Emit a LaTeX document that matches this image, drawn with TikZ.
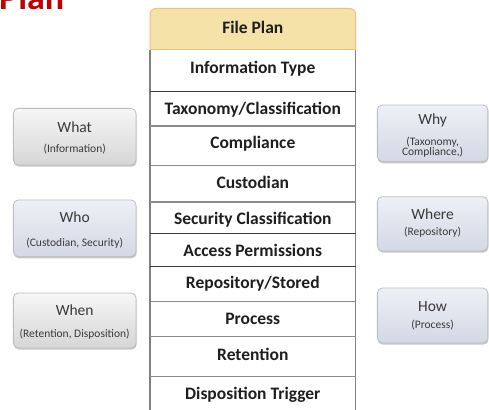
\documentclass[tikz,border=0pt]{standalone}
\usepackage{fontspec}
\setmainfont{Carlito}
\usetikzlibrary{shadows}
\definecolor{hdrfill}{HTML}{F5E2A8}
\definecolor{hdrline}{HTML}{F2C07C}
\definecolor{colline}{HTML}{808080}
\definecolor{rowdark}{HTML}{3C3C3C}
\definecolor{rowgray}{HTML}{8A8A8A}
\definecolor{coltext}{HTML}{1E1E1E}
\definecolor{boxline}{HTML}{BDBDBD}
\definecolor{graytop}{HTML}{F6F6F6}
\definecolor{graybot}{HTML}{D6D6D6}
\definecolor{bluetop}{HTML}{EEF0F6}
\definecolor{bluebot}{HTML}{D3D8E5}
\definecolor{boxtext}{HTML}{3A3A3A}
\definecolor{plancol}{HTML}{C00000}
\begin{document}
\begin{tikzpicture}[x=1pt,y=-1pt,
  rowtext/.style={font=\bfseries\fontsize{17.5}{19}\selectfont, text=coltext, inner sep=0pt, text height=0.644em, text depth=0pt, anchor=center},
  darkline/.style={draw=rowdark, line width=1pt},
  grayline/.style={draw=rowgray, line width=1.1pt},
  sidebox/.style={draw=boxline, line width=0.8pt, rounded corners=5pt, inner sep=0pt,
    drop shadow={shadow xshift=0.6pt, shadow yshift=-1.6pt, fill=black, opacity=0.22}},
  graybox/.style={sidebox, top color=graytop, bottom color=graybot},
  bluebox/.style={sidebox, top color=bluetop, bottom color=bluebot},
  boxtitle/.style={font=\fontsize{15.5}{17}\selectfont, text=boxtext, inner sep=0pt, text height=0.644em, text depth=0pt},
  boxsub/.style={font=\fontsize{11.5}{13}\selectfont, text=boxtext, inner sep=0pt, text height=0.644em, text depth=0pt},
]
\useasboundingbox (0,0) rectangle (489,409);
\clip (0,0) rectangle (489,409);
% title fragment
\node[font=\bfseries\fontsize{36}{40}\selectfont, text=plancol, inner sep=0pt, anchor=base west] (plan) at (-1,10) {Plan};
% header
\filldraw[fill=hdrfill, draw=hdrline, line width=1pt, rounded corners=6pt] (150,50) -- (150,8.5) -- (355.7,8.5) -- (355.7,50);
\draw[draw=hdrline, line width=1pt] (150,50) -- (355.7,50);
% column sides
\draw[draw=colline, line width=1.2pt] (150,50) -- (150,410);
\draw[draw=colline, line width=1.2pt] (355.7,50) -- (355.7,410);
% row separators
\draw[darkline] (150,91.7) -- (355.7,91.7);
\draw[grayline] (150,126) -- (355.7,126);
\draw[grayline] (150,165.7) -- (355.7,165.7);
\draw[grayline] (150,202) -- (355.7,202);
\draw[darkline] (150,233) -- (355.7,233);
\draw[darkline] (150,266) -- (355.7,266);
\draw[grayline] (150,301.7) -- (355.7,301.7);
\draw[grayline] (150,336.7) -- (355.7,336.7);
\draw[grayline] (150,376.7) -- (355.7,376.7);
% row texts
\node[rowtext] (fileplan) at (252.8,30) {File Plan};
\node[rowtext] (infotype) at (252.8,70) {Information Type};
\node[rowtext] (taxonomy) at (252.8,111) {Taxonomy/Classification};
\node[rowtext] (compliance) at (252.8,145.5) {Compliance};
\node[rowtext] (custodian) at (252.8,185.5) {Custodian};
\node[rowtext] (security) at (252.8,220.8) {Security Classification};
\node[rowtext] (access) at (252.8,252.8) {Access Permissions};
\node[rowtext] (repository) at (252.8,285.5) {Repository/Stored};
\node[rowtext] (process) at (252.8,321) {Process};
\node[rowtext] (retention) at (252.8,356.8) {Retention};
\node[rowtext] (disposition) at (252.8,396) {Disposition Trigger};
% left boxes
\node[graybox, minimum width=122.7pt, minimum height=56.7pt] (whatbox) at (74.7,136.7) {};
\node[boxtitle] (whatt) at (74.7,129.5) {What};
\node[boxsub] (whats) at (74.7,149) {(Information)};
\node[bluebox, minimum width=122.7pt, minimum height=56.7pt] (whobox) at (74.7,228.3) {};
\node[boxtitle] (whot) at (74.7,219.5) {Who};
\node[boxsub] (whos) at (74.7,243) {(Custodian, Security)};
\node[graybox, minimum width=122.7pt, minimum height=55pt] (whenbox) at (74.7,320.5) {};
\node[boxtitle] (whent) at (74.7,312.5) {When};
\node[boxsub] (whens) at (74.7,334) {(Retention, Disposition)};
% right boxes
\node[bluebox, minimum width=110.5pt, minimum height=56.7pt] (whybox) at (432.6,133.3) {};
\node[boxtitle] (whyt) at (432.6,121.5) {Why};
\node[boxsub] (whys1) at (432.6,142.5) {(Taxonomy,};
\node[boxsub] (whys2) at (432.6,152.5) {Compliance,)};
\node[bluebox, minimum width=110.5pt, minimum height=54.3pt] (wherebox) at (432.6,223.8) {};
\node[boxtitle] (wheret) at (432.6,216.5) {Where};
\node[boxsub] (wheres) at (432.6,232.7) {(Repository)};
\node[bluebox, minimum width=110.5pt, minimum height=55pt] (howbox) at (432.6,315.5) {};
\node[boxtitle] (howt) at (432.6,308.2) {How};
\node[boxsub] (hows) at (432.6,325) {(Process)};
\end{tikzpicture}
\end{document}
